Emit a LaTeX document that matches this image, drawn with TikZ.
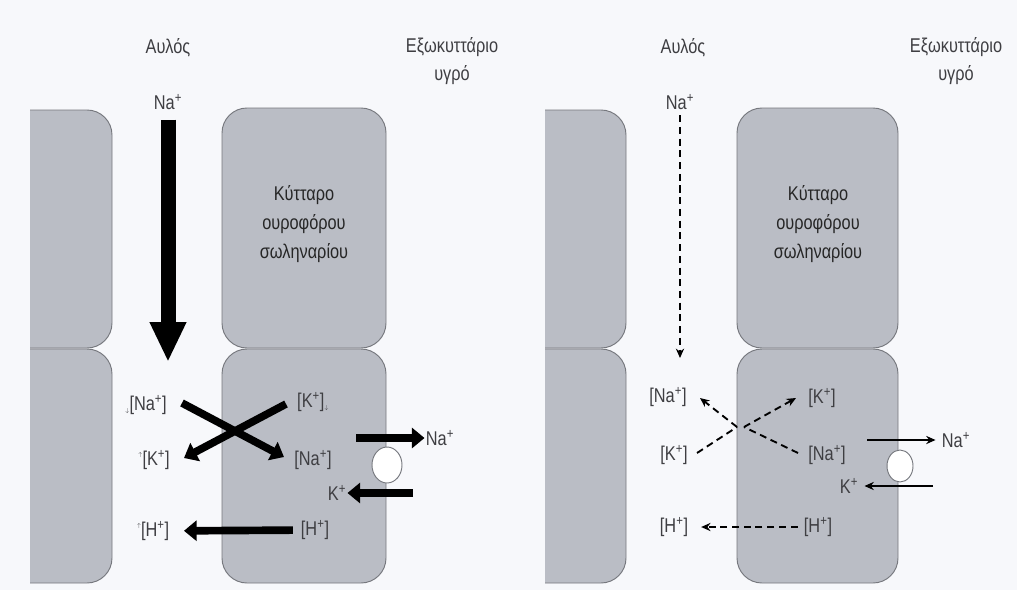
\documentclass[tikz,border=0pt]{standalone}
\usepackage{fontspec}
\setmainfont[FakeStretch=0.82]{Liberation Sans}
\usetikzlibrary{arrows.meta,shapes.geometric}
\definecolor{paper}{RGB}{247,248,251}
\definecolor{cellfill}{RGB}{186,189,197}
\definecolor{celledge}{RGB}{118,120,126}
\definecolor{ink}{RGB}{62,62,66}
\newcommand{\conc}[1]{[#1\textsuperscript{+}]}
\newcommand{\ionp}[1]{#1\textsuperscript{+}}
\newcommand{\tinydn}{\raisebox{-0.2ex}{\tiny$\downarrow$}}
\newcommand{\tinyup}{\raisebox{0.9ex}{\tiny$\uparrow$}}
\begin{document}
\begin{tikzpicture}[x=0.03cm, y=-0.03cm,
  lbl/.style={text=ink, font=\fontsize{17}{24}\selectfont, inner sep=1pt, align=center},
  celltxt/.style={text=black!85, font=\fontsize{17}{25}\selectfont, align=center},
  cell/.style={fill=cellfill, draw=celledge, line width=0.8pt, rounded corners=0.75cm},
  pump/.style={ellipse, draw=celledge, fill=white, line width=0.8pt, inner sep=0pt},
  big/.style={line width=0.45cm, -{Triangle[width=1.02cm,length=1.2cm]}},
  fat/.style={line width=0.23cm, -{Triangle[width=0.6cm,length=0.38cm]}},
  slim/.style={line width=1.6pt, -{Stealth[length=8pt,width=7pt]}},
  dline/.style={line width=1.6pt, dash pattern=on 6pt off 4pt},
  darrow/.style={dline, -{Stealth[length=8pt,width=7pt]}}]

\fill[paper] (0,0) rectangle (1017,590);

\begin{scope}
\clip (30,0) rectangle (440,590);
\draw[cell] (-20,110) rectangle (112,348);
\draw[cell] (-20,349) rectangle (112,583);
\end{scope}
\draw[cell] (222,108) rectangle (386,348);
\draw[cell] (222,349) rectangle (386,583);

\begin{scope}
\clip (545,0) rectangle (1017,590);
\draw[cell] (500,110) rectangle (626,348);
\draw[cell] (500,349) rectangle (626,583);
\end{scope}
\draw[cell] (737,108) rectangle (898,348);
\draw[cell] (737,349) rectangle (898,583);

\node[lbl] at (168, 48) (tubeL) {Αυλός};
\node[lbl] at (452, 61) (ecfL) {Εξωκυττάριο\\υγρό};
\node[celltxt] at (304, 224) (cellL) {Κύτταρο\\ουροφόρου\\σωληναρίου};
\node[lbl] at (168, 102) (naL) {\ionp{Na}};
\coordinate (tipL) at (168, 362);
\draw[big, shorten <=0.25cm] (naL) -- (tipL);

\node[lbl] at (146, 405) (naInL) {\tinydn\conc{Na}};
\node[lbl] at (313, 402) (kInL) {\conc{K}\tinydn};
\node[lbl] at (154, 460) (kOutL) {\tinyup\conc{K}};
\node[lbl] at (313, 460) (naCellL) {\conc{Na}};
\node[lbl] at (153, 531) (hOutL) {\tinyup\conc{H}};
\node[lbl] at (315, 530) (hCellL) {\conc{H}};
\node[lbl] at (337, 493) (kPumpL) {\ionp{K}};
\node[lbl] at (440, 438) (naPumpL) {\ionp{Na}};
\node[pump, minimum width=0.9cm, minimum height=1.08cm] at (387, 465) (pumpL) {};

\coordinate (xa1) at (182, 403);
\coordinate (xa2) at (284, 457);
\coordinate (xb1) at (286, 404);
\coordinate (xb2) at (184, 458);
\draw[fat] (xa1) -- (xa2);
\draw[fat] (xb1) -- (xb2);
\coordinate (outL) at (356, 438);
\coordinate (inL) at (413, 493);
\draw[fat] (outL) -- (naPumpL);
\draw[fat] (inL) -- (kPumpL);
\draw[fat, shorten <=0.2cm, shorten >=0.4cm] (hCellL) -- (hOutL);

\node[lbl] at (683, 48) (tubeR) {Αυλός};
\node[lbl] at (956, 61) (ecfR) {Εξωκυττάριο\\υγρό};
\node[celltxt] at (818, 224) (cellR) {Κύτταρο\\ουροφόρου\\σωληναρίου};
\node[lbl] at (680, 102) (naR) {\ionp{Na}};
\coordinate (tipR) at (680, 358);
\draw[darrow, shorten <=0.12cm] (naR) -- (tipR);

\node[lbl] at (668, 397) (naLumR) {\conc{Na}};
\node[lbl] at (674, 455) (kLumR) {\conc{K}};
\node[lbl] at (822, 398) (kCellR) {\conc{K}};
\node[lbl] at (827, 455) (naCellR) {\conc{Na}};
\node[lbl] at (674, 527) (hLumR) {\conc{H}};
\node[lbl] at (818, 527) (hCellR) {\conc{H}};
\node[lbl] at (849, 486) (kPumpR) {\ionp{K}};
\node[lbl] at (956, 440) (naPumpR) {\ionp{Na}};
\node[pump, minimum width=0.78cm, minimum height=0.96cm] at (900, 466) (pumpR) {};

\coordinate (vL) at (737, 427);
\coordinate (vR) at (744, 427);
\coordinate (kFrom) at (697, 453);
\coordinate (kTo) at (796, 398);
\coordinate (naFrom) at (798, 453);
\coordinate (naTo) at (700, 398);
\draw[dline] (kFrom) -- (vL);
\draw[darrow] (vR) -- (kTo);
\draw[dline] (naFrom) -- (vR);
\draw[darrow] (vL) -- (naTo);
\coordinate (outR) at (867, 440);
\coordinate (inR) at (933, 486);
\draw[slim, shorten >=0.15cm] (outR) -- (naPumpR);
\draw[slim, shorten >=0.15cm] (inR) -- (kPumpR);
\draw[darrow, shorten <=0.15cm, shorten >=0.35cm] (hCellR) -- (hLumR);
\end{tikzpicture}
\end{document}
